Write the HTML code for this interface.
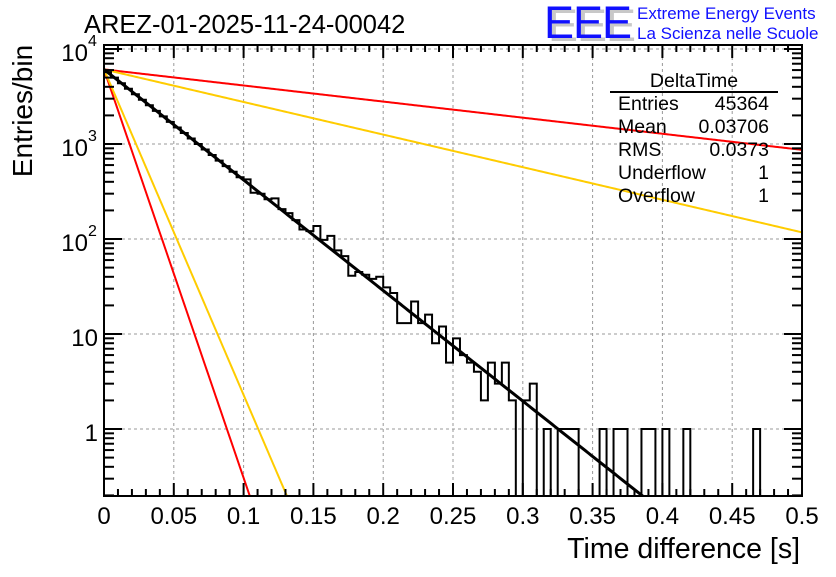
<!DOCTYPE html>
<html><head><meta charset="utf-8"><style>
body{margin:0;background:#fff;}
svg text{font-family:"Liberation Sans",sans-serif;}
</style></head><body>
<svg id="chart" width="836" height="572" viewBox="0 0 836 572" xmlns="http://www.w3.org/2000/svg">
<rect x="0" y="0" width="836" height="572" fill="#fff"/>
<text x="84" y="33" font-size="25.5">AREZ-01-2025-11-24-00042</text>
<g>
<text x="548" y="41" font-size="45" fill="#c8c8c8" letter-spacing="-1">EEE</text>
<text x="544" y="38" font-size="45" fill="#1010ff" letter-spacing="-1">EEE</text>
<text x="637" y="19" font-size="17" fill="#1010ff">Extreme Energy Events</text>
<text x="637" y="39" font-size="17" fill="#1010ff">La Scienza nelle Scuole</text>
</g>
<defs><clipPath id="pc"><rect x="104" y="45" width="698" height="451"/></clipPath></defs>
<g id="grid"></g>
<g id="curves" clip-path="url(#pc)"></g>
<g id="hist" clip-path="url(#pc)"></g>
<g id="axes"></g>
<g font-size="19.5">
<text x="694" y="87" text-anchor="middle">DeltaTime</text>
<line x1="610" y1="92" x2="778" y2="92" stroke="#000" stroke-width="2"/>
<text x="618" y="110">Entries</text><text x="769" y="110" text-anchor="end">45364</text>
<text x="618" y="133">Mean</text><text x="769" y="133" text-anchor="end">0.03706</text>
<text x="618" y="156">RMS</text><text x="769" y="156" text-anchor="end">0.0373</text>
<text x="618" y="179">Underflow</text><text x="769" y="179" text-anchor="end">1</text>
<text x="618" y="202">Overflow</text><text x="769" y="202" text-anchor="end">1</text>
</g>
<text x="800" y="558" font-size="28.5" text-anchor="end">Time difference [s]</text>
<text transform="translate(32,111) rotate(-90)" font-size="28" text-anchor="middle">Entries/bin</text>
</svg>
<script>
const binCounts = [5705,4990,4364,3817,3338,2920,2554,2233,1953,1708,1494,1307,1143,1000,874,765,669,585,511,447,424,307,299,262,268,206,187,158,126,121,137,98,108,76,66,41,45,42,38,40,31,27,13,13,22,13,16,8,12,5,9,6,5,4,2,5,3,5,2,0,2,3,0,1,0,1,1,1,0,0,0,1,0,1,1,0,0,1,1,0,1,0,0,1,0,0,0,0,0,0,0,0,0,1,0,0,0,0,0,0];
const binWidth = 0.005;
const xTicks = [0,0.05,0.1,0.15,0.2,0.25,0.3,0.35,0.4,0.45,0.5];
const xTickLabels = ["0","0.05","0.1","0.15","0.2","0.25","0.3","0.35","0.4","0.45","0.5"];
const yDecades = [0,1,2,3,4];
const yTickLabels = ["1","10","10","10","10"];
const yTickExps = ["","","2","3","4"];
const curveAmp = [6100,6100,6100,6100,6100];
const curveRates = [3.9,7.9,99,78.9,26.8];
const curveColors = ["#ff0000","#ffcc00","#ff0000","#ffcc00","#000000"];
const curveNames = ["red-slow-curve","yellow-slow-curve","red-fast-curve","yellow-fast-curve","fit-curve"];

const X0=104,X1=802,Y0=45,Y1=496;
const xs = v => X0 + (v/0.5)*(X1-X0);
const ys = v => v<=0 ? Y1+2 : 429 - 95*Math.log10(v);
const NS="http://www.w3.org/2000/svg";
function mk(tag, attrs, parent){const e=document.createElementNS(NS,tag);for(const k in attrs)e.setAttribute(k,attrs[k]);parent.appendChild(e);return e;}

const grid=document.getElementById('grid');
xTicks.forEach((t,i)=>{ if(i>0&&i<xTicks.length-1){
  const l=mk('line',{x1:xs(t),y1:Y0,x2:xs(t),y2:Y1,stroke:'#999','stroke-dasharray':'3,3','stroke-width':1},grid);
  
  
}});
yDecades.forEach(d=>{
  const y=ys(Math.pow(10,d));
  const l=mk('line',{x1:X0,y1:y,x2:X1,y2:y,stroke:'#999','stroke-dasharray':'3,3','stroke-width':1},grid);
  
  
});

const cg=document.getElementById('curves');
curveRates.forEach((k,ci)=>{
  let pts=[];
  for(let i=0;i<=400;i++){const t=0.5*i/400;const v=curveAmp[ci]*Math.exp(-k*t);pts.push(xs(t).toFixed(2)+','+Math.min(ys(v),Y1+40).toFixed(2)); if(ys(v)>Y1+5)break;}
  const p=mk('polyline',{points:pts.join(' '),fill:'none',stroke:curveColors[ci],'stroke-width':ci===4?3:2},cg);
  
  
});

const hg=document.getElementById('hist');
let d='M'+xs(0)+','+(Y1+2);
binCounts.forEach((c,i)=>{
  const xa=xs(i*binWidth), xb=xs((i+1)*binWidth), y=ys(c);
  d+=' L'+xa.toFixed(2)+','+y.toFixed(2)+' L'+xb.toFixed(2)+','+y.toFixed(2);
});
d+=' L'+xs(0.5)+','+(Y1+2);
const hp=mk('path',{d:d,fill:'none',stroke:'#000','stroke-width':2},hg);



const ax=document.getElementById('axes');
const fr=mk('rect',{x:X0,y:Y0,width:X1-X0,height:Y1-Y0,fill:'none',stroke:'#000','stroke-width':2},ax);


for(let i=0;i<=50;i++){
  const t=i*0.01, x=xs(t), major=i%5===0, L=major?13:7;
  mk('line',{x1:x,y1:Y1,x2:x,y2:Y1-L,stroke:'#000','stroke-width':2},ax);
  mk('line',{x1:x,y1:Y0,x2:x,y2:Y0+L,stroke:'#000','stroke-width':2},ax);
}
xTicks.forEach((t,i)=>{
  const tx=mk('text',{x:xs(t),y:524,'font-size':24,'text-anchor':'middle'},ax);
  tx.textContent=xTickLabels[i];
  
  
});
for(let d0=-1;d0<=4;d0++){
  for(let k=1;k<=9;k++){
    const v=k*Math.pow(10,d0), y=ys(v);
    if(y<Y0||y>Y1)continue;
    const L=k===1?18:10;
    mk('line',{x1:X0,y1:y,x2:X0+L,y2:y,stroke:'#000','stroke-width':2},ax);
    mk('line',{x1:X1,y1:y,x2:X1-L,y2:y,stroke:'#000','stroke-width':2},ax);
  }
}
yDecades.forEach((dd,i)=>{
  const y=ys(Math.pow(10,dd));
  const hasExp=yTickExps[i]!=='';
  const tx=mk('text',{x:hasExp?88:98,y:y+12,'font-size':24,'text-anchor':'end'},ax);
  tx.textContent=yTickLabels[i];
  
  
  if(hasExp){
    const e=mk('text',{x:88,y:y-3,'font-size':16},ax);
    e.textContent=yTickExps[i];
    
    
  }
});
</script>
</body></html>
